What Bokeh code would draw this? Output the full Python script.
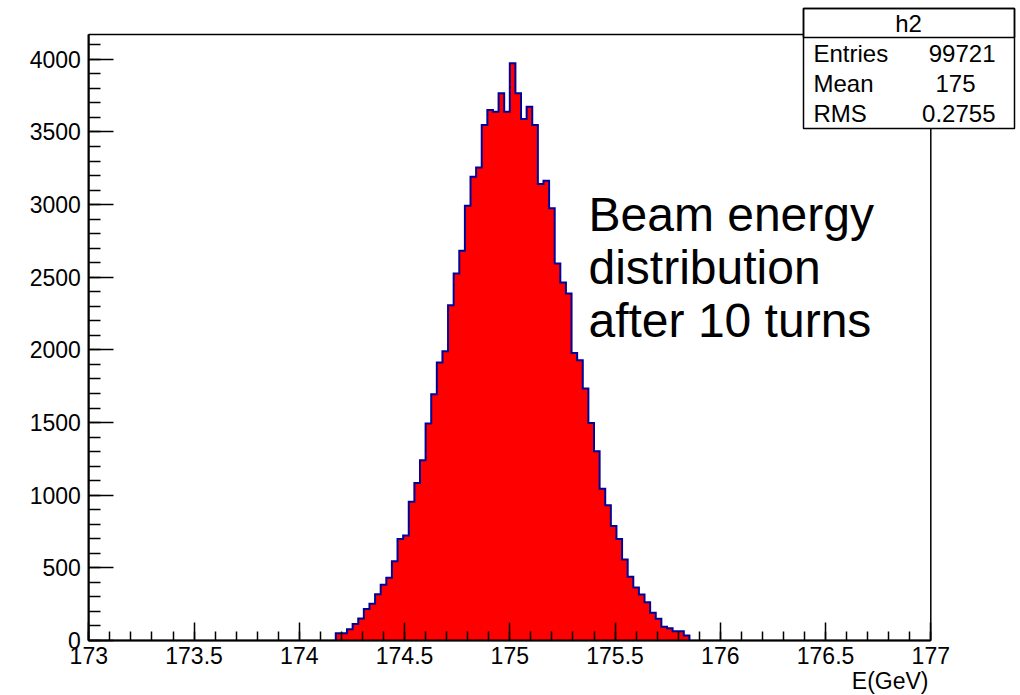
import numpy as np
from bokeh.plotting import figure
from bokeh.models import Range1d, SingleIntervalTicker, Label, BoxAnnotation, LinearAxis
from bokeh.embed import file_html
from bokeh.resources import INLINE

# ---------------- data ----------------
x_min, x_max, n_bins = 173.0, 177.0, 150
first_bin = 44
counts = [50, 50, 78, 113, 151, 216, 253, 319, 383, 432,
          546, 698, 723, 955, 1084, 1240, 1493, 1695, 1913, 1991,
          2308, 2526, 2682, 2992, 3192, 3256, 3548, 3651, 3639, 3766,
          3639, 3972, 3766, 3589, 3674, 3548, 3141, 3164, 2974, 2595,
          2464, 2388, 1979, 1929, 1734, 1497, 1302, 1045, 930, 788,
          698, 558, 439, 365, 317, 264, 191, 149, 94, 85, 64, 64, 34]

x_ticks = [173.0, 173.5, 174.0, 174.5, 175.0, 175.5, 176.0, 176.5, 177.0]
x_tick_labels = ["173", "173.5", "174", "174.5", "175", "175.5", "176", "176.5", "177"]
y_ticks = [0, 500, 1000, 1500, 2000, 2500, 3000, 3500, 4000]
y_tick_labels = ["0", "500", "1000", "1500", "2000", "2500", "3000", "3500", "4000"]

x_axis_title = "E(GeV)"
annotation_lines = ["Beam energy", "distribution", "after 10 turns"]
stats_title = "h2"
stats_names = ["Entries", "Mean", "RMS"]
stats_values = ["99721", "175", "0.2755"]

FONT = "Liberation Sans"

# ---------------- layout (pixels on the 1020x695 canvas) ----------------
W, H = 1020, 695
FL, FR, FT, FB = 88.3, 930.3, 34.0, 640.0   # histogram frame edges
y_top = 1.05 * max(counts)
sx = (FR - FL) / (x_max - x_min)
sy = (FB - FT) / y_top

p = figure(width=W, height=H, output_backend="svg", toolbar_location=None,
           x_axis_location=None, y_axis_location=None,
           x_range=Range1d(x_min - FL / sx, x_max + (W - FR) / sx),
           y_range=Range1d(-(H - FB) / sy, y_top + FT / sy),
           min_border=0, min_border_left=0, min_border_right=0,
           min_border_top=0, min_border_bottom=0)
p.background_fill_color = "white"
p.border_fill_color = "white"
p.outline_line_color = None
p.xgrid.grid_line_color = None
p.ygrid.grid_line_color = None

# frame box (top and right sides)
p.add_layout(BoxAnnotation(left=x_min, right=x_max, bottom=0, top=y_top,
                           fill_alpha=0.0, line_color="black", line_alpha=1.0,
                           line_width=1.5, level="underlay"))

# histogram path built from the bins
bw = (x_max - x_min) / n_bins
edges = x_min + bw * np.arange(first_bin, first_bin + len(counts) + 1)
xs = np.repeat(edges, 2)
ys = np.concatenate([[0], np.repeat(np.array(counts, dtype=float), 2), [0]])
p.patch(xs, ys, fill_color="#ff0000", line_color=None)
p.line(xs, ys, line_color="#000099", line_width=2, line_join="miter")

# axes (fixed at the frame edges)
xa = LinearAxis(fixed_location=0, bounds=(x_min, x_max),
                ticker=SingleIntervalTicker(interval=0.5, num_minor_ticks=5))
xa.major_label_overrides = dict(zip(x_ticks, x_tick_labels))
ya = LinearAxis(fixed_location=x_min, bounds=(0, y_top),
                ticker=SingleIntervalTicker(interval=500, num_minor_ticks=5))
ya.major_label_overrides = dict(zip(y_ticks, y_tick_labels))
for ax in (xa, ya):
    ax.axis_line_color = "black"
    ax.axis_line_width = 2
    ax.major_tick_line_color = "black"
    ax.minor_tick_line_color = "black"
    ax.major_tick_line_width = 1.5
    ax.minor_tick_line_width = 1.5
    ax.major_tick_out = 0
    ax.minor_tick_out = 0
    ax.major_label_text_font = FONT
    ax.major_label_text_font_size = "23px"
    ax.major_label_text_color = "black"
xa.major_tick_in = 18
xa.minor_tick_in = 9
xa.major_label_standoff = 6
ya.major_tick_in = 25
ya.minor_tick_in = 12
ya.major_label_standoff = 8
p.add_layout(xa, "below")
p.add_layout(ya, "left")

# x axis title (right-aligned at axis end)
p.add_layout(Label(x=928, y=H - 680, x_units="screen", y_units="screen", text=x_axis_title,
                   text_font=FONT, text_font_size="23px", text_align="right",
                   text_baseline="alphabetic", text_color="black"))

# big annotation text
for i, line in enumerate(annotation_lines):
    p.add_layout(Label(x=588, y=H - 214 - 53 * i, x_units="screen", y_units="screen", text=line,
                       text_font=FONT, text_font_size="48px", text_align="left",
                       text_baseline="alphabetic", text_color="black"))

# stats box
BL, BR, BT, BB, BD = 803, 1014, 8, 128, 37
p.add_layout(BoxAnnotation(left=BL, right=BR, bottom=H - BB, top=H - BT,
                           left_units="screen", right_units="screen",
                           bottom_units="screen", top_units="screen",
                           fill_color="white", fill_alpha=1.0,
                           line_color="black", line_alpha=1.0, line_width=1.5,
                           level="overlay"))
p.add_layout(BoxAnnotation(left=BL, right=BR, bottom=H - BD, top=H - BT,
                           left_units="screen", right_units="screen",
                           bottom_units="screen", top_units="screen",
                           fill_alpha=0.0, line_color="black", line_alpha=1.0,
                           line_width=1.5, level="overlay"))
p.add_layout(Label(x=908, y=H - 23, x_units="screen", y_units="screen", text=stats_title,
                   text_font=FONT, text_font_size="24px", text_align="center",
                   text_baseline="alphabetic", text_color="black", level="overlay"))
value_right = [995, 975, 995]
for i, (nm, vv) in enumerate(zip(stats_names, stats_values)):
    yb = H - 53 - 30 * i
    p.add_layout(Label(x=813, y=yb, x_units="screen", y_units="screen", text=nm,
                       text_font=FONT, text_font_size="24px", text_align="left",
                       text_baseline="alphabetic", text_color="black", level="overlay"))
    p.add_layout(Label(x=value_right[i], y=yb, x_units="screen", y_units="screen", text=vv,
                       text_font=FONT, text_font_size="24px", text_align="right",
                       text_baseline="alphabetic", text_color="black", level="overlay"))

open("out.html", "w").write(file_html(p, INLINE))
